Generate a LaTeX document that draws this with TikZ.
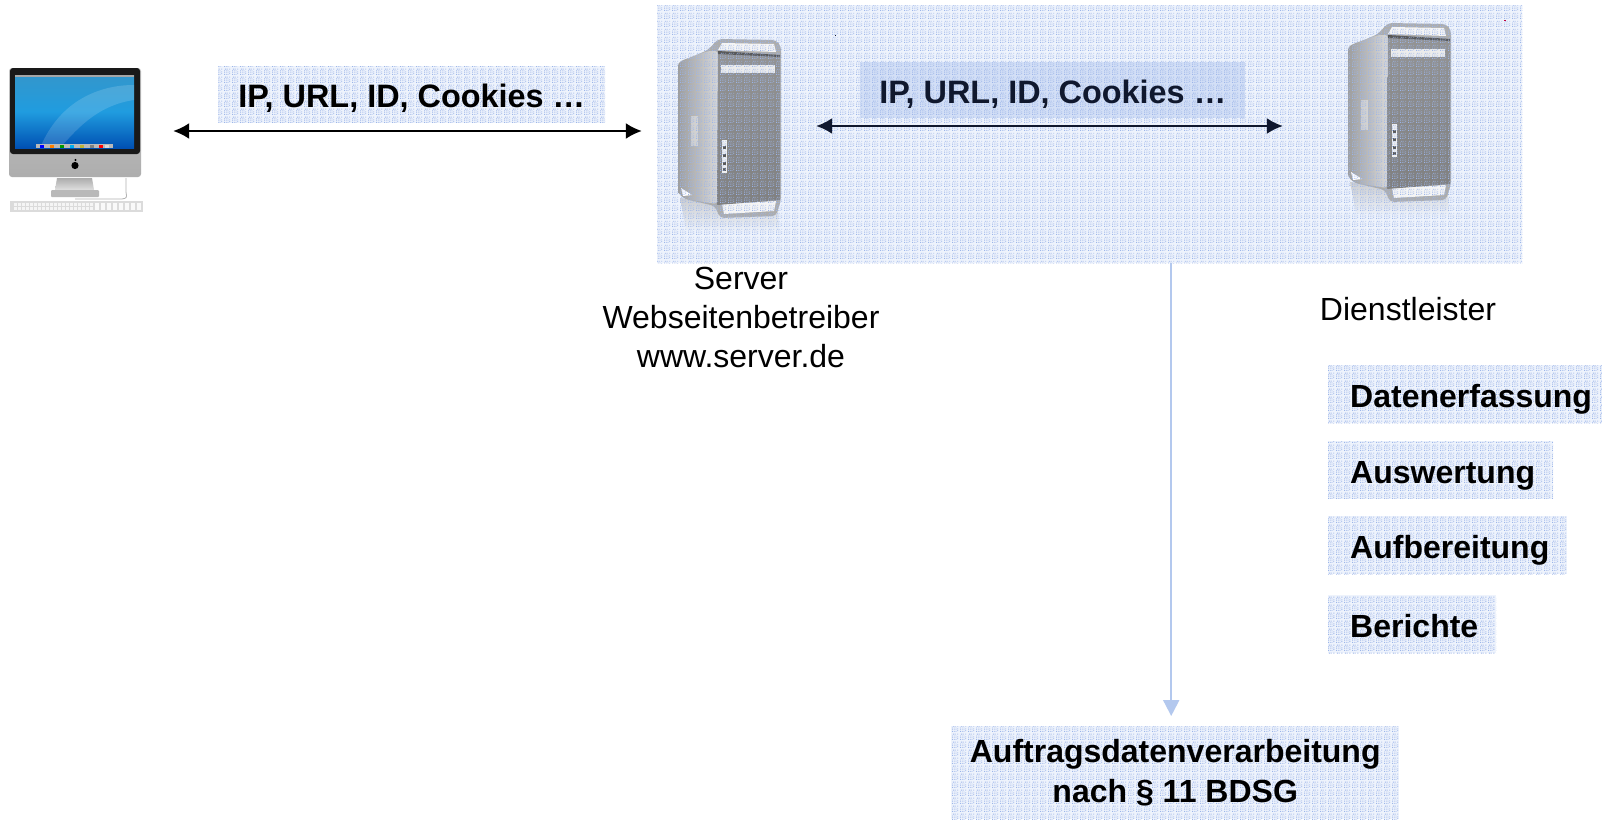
\documentclass[tikz,border=0pt]{standalone}
\usepackage{fontspec}
\setmainfont{Liberation Sans}
\usetikzlibrary{patterns,arrows.meta,calc}
\definecolor{dotblue}{HTML}{9CB5E9}
\definecolor{paleblue}{HTML}{EEF3FC}
\definecolor{midblue}{HTML}{D3DFF6}
\definecolor{arrowblue}{HTML}{B3C8EE}
\definecolor{navy}{HTML}{10182E}
\pgfdeclarepatternformonly{halftone}{\pgfqpoint{0pt}{0pt}}{\pgfqpoint{8pt}{8pt}}{\pgfqpoint{8pt}{8pt}}{%
  \foreach \a in {0,2,4} {\foreach \b in {0,2,4} {%
    \pgfpathrectangle{\pgfqpoint{\a pt}{\b pt}}{\pgfqpoint{1pt}{1pt}}}}%
  \pgfpathrectangle{\pgfqpoint{6pt}{6pt}}{\pgfqpoint{1pt}{1pt}}%
  \pgfpathrectangle{\pgfqpoint{6pt}{1pt}}{\pgfqpoint{1pt}{1pt}}%
  \pgfpathrectangle{\pgfqpoint{1pt}{6pt}}{\pgfqpoint{1pt}{1pt}}%
  \pgfpathrectangle{\pgfqpoint{6pt}{3pt}}{\pgfqpoint{1pt}{1pt}}%
  \pgfpathrectangle{\pgfqpoint{3pt}{6pt}}{\pgfqpoint{1pt}{1pt}}%
  \pgfusepath{fill}}
\tikzset{
  halfdots/.style={pattern=halftone,pattern color=dotblue},
  labelbox/.style={draw=none,fill=paleblue,postaction={halfdots},
    anchor=north west,inner sep=0pt,font=\fontsize{32}{40}\selectfont\bfseries,text height=28pt,text depth=2pt},
  listbox/.style={labelbox,minimum height=58pt,align=left},
  plaintext/.style={inner sep=0pt,font=\fontsize{32}{39}\selectfont,align=center},
  hit/.style={inner sep=0pt,minimum height=10pt},
  biarrow/.style={line width=2pt,{Latex[length=16pt,width=16pt]}-{Latex[length=16pt,width=16pt]}},
  downarrow/.style={draw=arrowblue,line width=2pt,-{Triangle[length=16pt,width=16pt]}},
  pics/tower/.style={code={
    % reflection
    \shade[top color=gray!45,bottom color=paleblue,opacity=.8] (2,160) -- (100,172) -- (101,194) -- (8,192) -- cycle;
    % silhouette of the frame
    \fill[black!32,rounded corners=4pt] (30,12) -- (40,1) -- (98,2) -- (103,8) -- (103,162) -- (98,178) -- (42,180) -- (37,168) -- (7,161) -- (0,155) -- (0,25) -- cycle;
    % handle openings
    \fill[white!92!gray] (44,5) -- (96,6) -- (98,14) -- (40,12) -- cycle;
    \fill[white!92!gray] (44,166) -- (98,163) -- (96,173) -- (46,176) -- cycle;
    % side panel
    \shade[left color=black!38,right color=black!15,rounded corners=3pt] (0,25) -- (5,22) -- (30,13) -- (40,13) -- (39,166) -- (7,161) -- (0,155) -- cycle;
    \fill[white!85!gray,opacity=.5] (13,78) rectangle (20,108);
    \fill[white] (3,150) -- (14,157) -- (5,158) -- cycle;
    % front mesh
    \shade[top color=black!42,bottom color=black!50] (40,13) -- (102,17) -- (102,162) -- (39,167) -- cycle;
    \fill[black,opacity=.4] (40,13) -- (102,17) -- (102,19) -- (40,16) -- cycle;
    \fill[white!85!gray] (43,27) rectangle (97,35);
    \fill[white!90!gray] (44,102) rectangle (49,135);
    \foreach \q in {108,116,124,130} \fill[gray!70!black] (45,\q) rectangle (48,\q+2.5);
  }},
}
\begin{document}
\begin{tikzpicture}[x=1pt,y=-1pt]
\useasboundingbox (0,0) rectangle (1602,819);
\fill[white] (0,0) rectangle (1602,819);

% iMac
\shade[top color=black!22,bottom color=black!32,rounded corners=3pt] (9,68) rectangle (141,177);
\fill[black!90,rounded corners=3pt] (10,68) rectangle (140,154);
\shade[top color=blue!35!cyan!60!gray,bottom color=blue!55!cyan!70!black,middle color=blue!35!cyan!75!gray] (15,75) rectangle (134,148);
\fill[white,opacity=.15] (40,148) .. controls (60,100) and (100,85) .. (134,85) -- (134,100) .. controls (100,105) and (80,125) .. (60,148) -- cycle;
\fill[gray!70] (15,75) rectangle (134,76.5);
\fill[gray!55] (36,144) rectangle (113,148);
\foreach \q/\c in {40/blue,50/orange,60/green!60!black,70/cyan,80/yellow!70!black,90/gray,99/red,105/gray!30}
  \fill[\c] (\q,144.5) rectangle +(4,3);
\fill[black] (75,165.5) circle (3.6pt);
\fill[black] (75.5,160) circle (1.2pt);
\shade[top color=gray!65,bottom color=gray!25] (57,178) -- (92,178) -- (94,190) -- (55,190) -- cycle;
\fill[gray!55,rounded corners=1pt] (51,190) rectangle (99,197);
\draw[gray!60,line width=.8pt] (126,178) -- (126,192) .. controls (127,198) .. (122,199) -- (75,199);
\fill[gray!28] (10,201) rectangle (143,212);
\foreach \q in {14,18,...,90} \fill[gray!8] (\q,203) rectangle +(2.5,3);
\foreach \q in {14,18,...,90} \fill[gray!8] (\q,207) rectangle +(2.5,3);
\foreach \q in {95,101,...,140} \fill[gray!5] (\q,203) rectangle +(3.5,7);

% panel ground, towers, then the dots over both
\node[draw=none,fill=paleblue,anchor=north west,inner sep=0pt,minimum width=865pt,minimum height=258pt] (panel) at (657,5) {};
\pic at (678,38) {tower};
\pic at (1348,22) {tower};
\fill[halfdots] (panel.north west) rectangle (panel.south east);
\fill[navy] (834.5,34.5) rectangle +(1.5,1);
\fill[purple] (1504,20) rectangle +(2,1);

% attachment nodes for the icons
\node[hit,minimum width=163pt] (imac) at (91.5,131) {};
\node[hit,minimum width=174pt] (srva) at (729,126) {};
\node[hit,minimum width=230pt] (srvb) at (1398,126) {};

% labels
\node[labelbox,font=\fontsize{32.4}{40}\selectfont\bfseries,minimum width=387pt,minimum height=57pt] (ipa) at (218,66) {IP, URL, ID, Cookies …};
\node[labelbox,fill=midblue,text=navy,font=\fontsize{32.4}{40}\selectfont\bfseries,minimum width=385pt,minimum height=56pt] (ipb) at (860,62) {IP, URL, ID, Cookies …};
\node[listbox,minimum width=274pt] (d1) at (1328,365) {\hspace*{22pt}Datenerfassung\hspace*{14pt}};
\node[listbox,minimum width=225pt,text width=225pt] (d2) at (1328,441) {\hspace*{22pt}Auswertung};
\node[listbox,minimum width=239pt,text width=239pt] (d3) at (1328,516) {\hspace*{22pt}Aufbereitung};
\node[listbox,minimum width=168pt,text width=168pt] (d4) at (1328,595) {\hspace*{22pt}Berichte};
\node[draw=none,fill=paleblue,postaction={halfdots},anchor=north west,inner sep=0pt,minimum width=448pt,minimum height=93pt] (adv) at (951,726) {};
\node[inner sep=0pt,font=\fontsize{32}{40}\selectfont\bfseries,align=center] (advtext) at (adv.center) {Auftragsdatenverarbeitung\\nach § 11 BDSG};

\node[plaintext] (srvlabel) at (741,317) {Server\\Webseitenbetreiber\\www.server.de};
\node[plaintext] (dlabel) at (1408,309) {Dienstleister};

% connectors
\draw[biarrow] (imac.east) -- ([yshift=-5pt]srva.west);
\draw[biarrow,navy] (srva.east) -- (srvb.west);
\draw[downarrow] ([xshift=81.5pt]panel.south) -- ([xshift=-4pt,yshift=10pt]adv.north);
\end{tikzpicture}
\end{document}
